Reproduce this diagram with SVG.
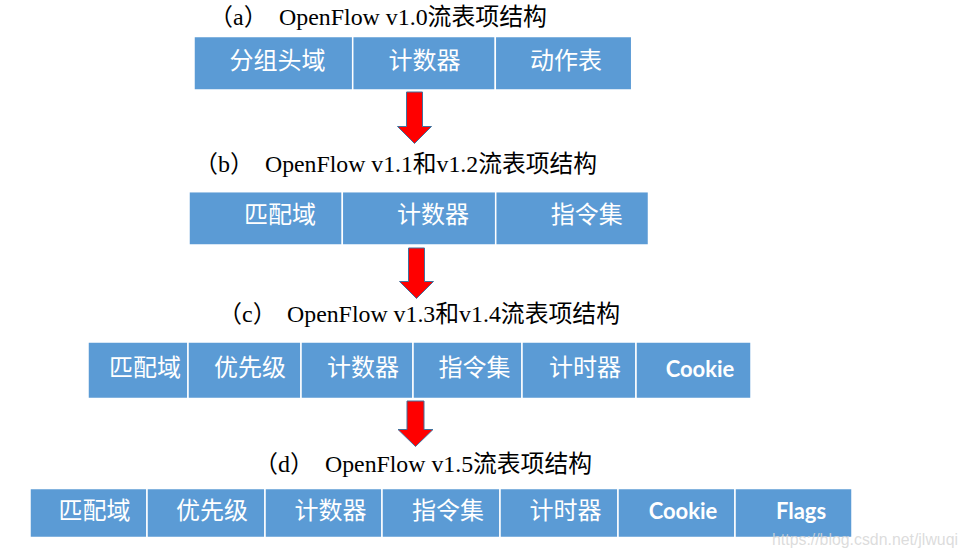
<svg xmlns="http://www.w3.org/2000/svg" width="967" height="558" viewBox="0 0 967 558">
<style>
.cell{fill:#5b9bd5;stroke:#ffffff;stroke-width:1.5}
.cj{font-family:"Noto Sans CJK SC","Noto Sans",sans-serif;font-size:24px;fill:#ffffff;text-anchor:middle}
.en{font-family:Lato,"Open Sans",sans-serif;font-weight:bold;font-size:22px;fill:#ffffff;text-anchor:middle}
.ttl{font-family:"Liberation Serif","Noto Sans CJK SC",serif;font-size:24px;fill:#000000}
.arr{fill:#ff0000;stroke:#41719c;stroke-width:1}
.wm{font-family:"Liberation Sans",Arial,sans-serif;font-size:17px;fill:#d6d6d6;fill-opacity:0.85}
</style>
<rect width="967" height="558" fill="#ffffff"/>

<text class="ttl"><tspan x="209" y="25">（a）</tspan><tspan x="279" y="25" textLength="268" lengthAdjust="spacingAndGlyphs">OpenFlow v1.0流表项结构</tspan></text>
<text class="ttl"><tspan x="194" y="172">（b）</tspan><tspan x="265" y="172" textLength="332" lengthAdjust="spacingAndGlyphs">OpenFlow v1.1和v1.2流表项结构</tspan></text>
<text class="ttl"><tspan x="218" y="322">（c）</tspan><tspan x="287" y="322" textLength="333" lengthAdjust="spacingAndGlyphs">OpenFlow v1.3和v1.4流表项结构</tspan></text>
<text class="ttl"><tspan x="254" y="472">（d）</tspan><tspan x="325" y="472" textLength="267" lengthAdjust="spacingAndGlyphs">OpenFlow v1.5流表项结构</tspan></text>

<g id="row-a">
<g id="a1"><rect class="cell" x="194" y="36.5" width="158.7" height="53.5"/><text class="cj" x="277.5" y="69">分组头域</text></g>
<g id="a2"><rect class="cell" x="352.7" y="36.5" width="142.6" height="53.5"/><text class="cj" x="424.5" y="69">计数器</text></g>
<g id="a3"><rect class="cell" x="495.3" y="36.5" width="136.4" height="53.5"/><text class="cj" x="566" y="69">动作表</text></g>
</g>

<g id="row-b">
<g id="b1"><rect class="cell" x="189" y="191.7" width="153.3" height="53.3"/><text class="cj" x="280" y="223">匹配域</text></g>
<g id="b2"><rect class="cell" x="342.3" y="191.7" width="153.4" height="53.3"/><text class="cj" x="433" y="223">计数器</text></g>
<g id="b3"><rect class="cell" x="495.7" y="191.7" width="152.8" height="53.3"/><text class="cj" x="586.7" y="223">指令集</text></g>
</g>

<g id="row-c">
<g id="c1"><rect class="cell" x="88" y="342" width="100" height="56.5"/><text class="cj" x="145" y="376">匹配域</text></g>
<g id="c2"><rect class="cell" x="188" y="342" width="113" height="56.5"/><text class="cj" x="250" y="376">优先级</text></g>
<g id="c3"><rect class="cell" x="301" y="342" width="112" height="56.5"/><text class="cj" x="363" y="376">计数器</text></g>
<g id="c4"><rect class="cell" x="413" y="342" width="109" height="56.5"/><text class="cj" x="474.5" y="376">指令集</text></g>
<g id="c5"><rect class="cell" x="522" y="342" width="114" height="56.5"/><text class="cj" x="585" y="376">计时器</text></g>
<g id="c6"><rect class="cell" x="636" y="342" width="115" height="56.5"/><text class="en" x="700" y="377">Cookie</text></g>
</g>

<g id="row-d">
<g id="d1"><rect class="cell" x="30" y="488.5" width="117" height="49"/><text class="cj" x="94.5" y="519">匹配域</text></g>
<g id="d2"><rect class="cell" x="147" y="488.5" width="118" height="49"/><text class="cj" x="212" y="519">优先级</text></g>
<g id="d3"><rect class="cell" x="265" y="488.5" width="117" height="49"/><text class="cj" x="330.5" y="519">计数器</text></g>
<g id="d4"><rect class="cell" x="382" y="488.5" width="118" height="49"/><text class="cj" x="448" y="519">指令集</text></g>
<g id="d5"><rect class="cell" x="500" y="488.5" width="118" height="49"/><text class="cj" x="565.5" y="519">计时器</text></g>
<g id="d6"><rect class="cell" x="618" y="488.5" width="117" height="49"/><text class="en" x="683" y="518.5">Cookie</text></g>
<g id="d7"><rect class="cell" x="735" y="488.5" width="117" height="49"/><text class="en" x="801" y="518.5">Flags</text></g>
</g>

<g id="connectors">
<polygon class="arr" points="406.5,92 422.5,92 422.5,126.5 431.5,126.5 414.5,143.5 397.5,126.5 406.5,126.5"/>
<polygon class="arr" points="408.5,248 424.5,248 424.5,281.5 433.5,281.5 416.5,298.5 399.5,281.5 408.5,281.5"/>
<polygon class="arr" points="407,401 424,401 424,429.5 433,429.5 415.5,446.5 398,429.5 407,429.5"/>
</g>

<text class="wm" x="772" y="545" textLength="186" lengthAdjust="spacingAndGlyphs">https://blog.csdn.net/jlwuqi</text>
</svg>
